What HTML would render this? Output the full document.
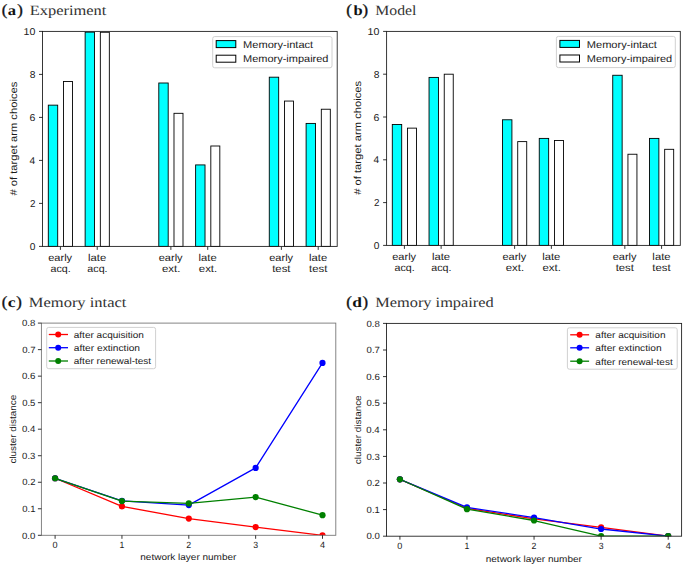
<!DOCTYPE html>
<html><head><meta charset="utf-8"><style>
html,body{margin:0;padding:0;background:#fff;}
body{width:685px;height:567px;overflow:hidden;}
svg{display:block;}
</style></head><body>
<svg width="685" height="567" viewBox="0 0 685 567" text-rendering="geometricPrecision" font-family='"Liberation Sans", sans-serif'>
<rect width="685" height="567" fill="#fff"/>
<text x="1.76" y="14.60" font-size="15.6" textLength="5.58" lengthAdjust="spacingAndGlyphs" font-family='"Liberation Serif", serif' font-weight="normal" fill="#111" stroke="#111" stroke-width="0.35">(</text>
<text x="7.77" y="14.50" font-size="14.2" textLength="8.28" lengthAdjust="spacingAndGlyphs" font-family='"Liberation Serif", serif' font-weight="bold" fill="#111">a</text>
<text x="17.16" y="14.60" font-size="15.6" textLength="5.58" lengthAdjust="spacingAndGlyphs" font-family='"Liberation Serif", serif' font-weight="normal" fill="#111" stroke="#111" stroke-width="0.35">)</text>
<text x="29.73" y="14.50" font-size="14.2" textLength="76.57" lengthAdjust="spacingAndGlyphs" font-family='"Liberation Serif", serif' font-weight="normal" fill="#333">Experiment</text>
<text x="346.26" y="14.60" font-size="15.6" textLength="5.58" lengthAdjust="spacingAndGlyphs" font-family='"Liberation Serif", serif' font-weight="normal" fill="#111" stroke="#111" stroke-width="0.35">(</text>
<text x="353.59" y="14.50" font-size="14.2" textLength="9.18" lengthAdjust="spacingAndGlyphs" font-family='"Liberation Serif", serif' font-weight="bold" fill="#111">b</text>
<text x="362.46" y="14.60" font-size="15.6" textLength="5.58" lengthAdjust="spacingAndGlyphs" font-family='"Liberation Serif", serif' font-weight="normal" fill="#111" stroke="#111" stroke-width="0.35">)</text>
<text x="375.25" y="14.50" font-size="14.2" textLength="41.17" lengthAdjust="spacingAndGlyphs" font-family='"Liberation Serif", serif' font-weight="normal" fill="#333">Model</text>
<text x="1.76" y="307.20" font-size="15.6" textLength="5.58" lengthAdjust="spacingAndGlyphs" font-family='"Liberation Serif", serif' font-weight="normal" fill="#111" stroke="#111" stroke-width="0.35">(</text>
<text x="7.80" y="306.70" font-size="14.2" textLength="7.84" lengthAdjust="spacingAndGlyphs" font-family='"Liberation Serif", serif' font-weight="bold" fill="#111">c</text>
<text x="16.16" y="307.20" font-size="15.6" textLength="5.58" lengthAdjust="spacingAndGlyphs" font-family='"Liberation Serif", serif' font-weight="normal" fill="#111" stroke="#111" stroke-width="0.35">)</text>
<text x="28.82" y="306.70" font-size="14.2" textLength="97.57" lengthAdjust="spacingAndGlyphs" font-family='"Liberation Serif", serif' font-weight="normal" fill="#333">Memory intact</text>
<text x="346.26" y="307.20" font-size="15.6" textLength="5.58" lengthAdjust="spacingAndGlyphs" font-family='"Liberation Serif", serif' font-weight="normal" fill="#111" stroke="#111" stroke-width="0.35">(</text>
<text x="352.39" y="306.70" font-size="14.2" textLength="9.70" lengthAdjust="spacingAndGlyphs" font-family='"Liberation Serif", serif' font-weight="bold" fill="#111">d</text>
<text x="362.46" y="307.20" font-size="15.6" textLength="5.58" lengthAdjust="spacingAndGlyphs" font-family='"Liberation Serif", serif' font-weight="normal" fill="#111" stroke="#111" stroke-width="0.35">)</text>
<text x="375.23" y="306.70" font-size="14.2" textLength="118.47" lengthAdjust="spacingAndGlyphs" font-family='"Liberation Serif", serif' font-weight="normal" fill="#333">Memory impaired</text>
<rect x="48.30" y="105.15" width="9.40" height="141.25" fill="#00ffff" stroke="#000" stroke-width="0.9" />
<rect x="63.50" y="81.50" width="9.00" height="164.91" fill="#ffffff" stroke="#000" stroke-width="0.9" />
<line x1="60.40" y1="246.40" x2="60.40" y2="249.90" stroke="#000" stroke-width="0.8" />
<text x="48.24" y="260.70" font-size="10.0" textLength="23.88" lengthAdjust="spacingAndGlyphs" font-family='"Liberation Sans", sans-serif' font-weight="normal" fill="#1a1a1a">early</text>
<text x="50.55" y="271.50" font-size="10.0" textLength="20.22" lengthAdjust="spacingAndGlyphs" font-family='"Liberation Sans", sans-serif' font-weight="normal" fill="#1a1a1a">acq.</text>
<rect x="85.13" y="32.15" width="9.40" height="214.25" fill="#00ffff" stroke="#000" stroke-width="0.9" />
<rect x="100.33" y="32.26" width="9.00" height="214.14" fill="#ffffff" stroke="#000" stroke-width="0.9" />
<line x1="97.23" y1="246.40" x2="97.23" y2="249.90" stroke="#000" stroke-width="0.8" />
<text x="88.03" y="260.70" font-size="10.0" textLength="18.15" lengthAdjust="spacingAndGlyphs" font-family='"Liberation Sans", sans-serif' font-weight="normal" fill="#1a1a1a">late</text>
<text x="87.38" y="271.50" font-size="10.0" textLength="20.22" lengthAdjust="spacingAndGlyphs" font-family='"Liberation Sans", sans-serif' font-weight="normal" fill="#1a1a1a">acq.</text>
<rect x="158.79" y="83.00" width="9.40" height="163.40" fill="#00ffff" stroke="#000" stroke-width="0.9" />
<rect x="173.99" y="113.31" width="9.00" height="133.09" fill="#ffffff" stroke="#000" stroke-width="0.9" />
<line x1="170.89" y1="246.40" x2="170.89" y2="249.90" stroke="#000" stroke-width="0.8" />
<text x="158.73" y="260.70" font-size="10.0" textLength="23.88" lengthAdjust="spacingAndGlyphs" font-family='"Liberation Sans", sans-serif' font-weight="normal" fill="#1a1a1a">early</text>
<text x="161.94" y="271.50" font-size="10.0" textLength="18.46" lengthAdjust="spacingAndGlyphs" font-family='"Liberation Sans", sans-serif' font-weight="normal" fill="#1a1a1a">ext.</text>
<rect x="195.62" y="164.92" width="9.40" height="81.48" fill="#00ffff" stroke="#000" stroke-width="0.9" />
<rect x="210.82" y="146.00" width="9.00" height="100.41" fill="#ffffff" stroke="#000" stroke-width="0.9" />
<line x1="207.72" y1="246.40" x2="207.72" y2="249.90" stroke="#000" stroke-width="0.8" />
<text x="198.52" y="260.70" font-size="10.0" textLength="18.15" lengthAdjust="spacingAndGlyphs" font-family='"Liberation Sans", sans-serif' font-weight="normal" fill="#1a1a1a">late</text>
<text x="198.77" y="271.50" font-size="10.0" textLength="18.46" lengthAdjust="spacingAndGlyphs" font-family='"Liberation Sans", sans-serif' font-weight="normal" fill="#1a1a1a">ext.</text>
<rect x="269.28" y="77.19" width="9.40" height="169.21" fill="#00ffff" stroke="#000" stroke-width="0.9" />
<rect x="284.48" y="101.06" width="9.00" height="145.34" fill="#ffffff" stroke="#000" stroke-width="0.9" />
<line x1="281.38" y1="246.40" x2="281.38" y2="249.90" stroke="#000" stroke-width="0.8" />
<text x="269.22" y="260.70" font-size="10.0" textLength="23.88" lengthAdjust="spacingAndGlyphs" font-family='"Liberation Sans", sans-serif' font-weight="normal" fill="#1a1a1a">early</text>
<text x="272.19" y="271.50" font-size="10.0" textLength="18.30" lengthAdjust="spacingAndGlyphs" font-family='"Liberation Sans", sans-serif' font-weight="normal" fill="#1a1a1a">test</text>
<rect x="306.11" y="123.42" width="9.40" height="122.98" fill="#00ffff" stroke="#000" stroke-width="0.9" />
<rect x="321.31" y="109.23" width="9.00" height="137.17" fill="#ffffff" stroke="#000" stroke-width="0.9" />
<line x1="318.21" y1="246.40" x2="318.21" y2="249.90" stroke="#000" stroke-width="0.8" />
<text x="309.01" y="260.70" font-size="10.0" textLength="18.15" lengthAdjust="spacingAndGlyphs" font-family='"Liberation Sans", sans-serif' font-weight="normal" fill="#1a1a1a">late</text>
<text x="309.02" y="271.50" font-size="10.0" textLength="18.30" lengthAdjust="spacingAndGlyphs" font-family='"Liberation Sans", sans-serif' font-weight="normal" fill="#1a1a1a">test</text>
<rect x="42.50" y="31.40" width="294.70" height="215.00" fill="none" stroke="#222" stroke-width="0.9"/>
<line x1="39.00" y1="246.40" x2="42.50" y2="246.40" stroke="#000" stroke-width="0.8" />
<text x="29.74" y="249.90" font-size="10.0" textLength="5.66" lengthAdjust="spacingAndGlyphs" font-family='"Liberation Sans", sans-serif' font-weight="normal" fill="#1a1a1a">0</text>
<line x1="39.00" y1="203.40" x2="42.50" y2="203.40" stroke="#000" stroke-width="0.8" />
<text x="30.04" y="206.90" font-size="10.0" textLength="5.45" lengthAdjust="spacingAndGlyphs" font-family='"Liberation Sans", sans-serif' font-weight="normal" fill="#1a1a1a">2</text>
<line x1="39.00" y1="160.40" x2="42.50" y2="160.40" stroke="#000" stroke-width="0.8" />
<text x="29.64" y="163.90" font-size="10.0" textLength="5.66" lengthAdjust="spacingAndGlyphs" font-family='"Liberation Sans", sans-serif' font-weight="normal" fill="#1a1a1a">4</text>
<line x1="39.00" y1="117.40" x2="42.50" y2="117.40" stroke="#000" stroke-width="0.8" />
<text x="29.61" y="120.90" font-size="10.0" textLength="5.86" lengthAdjust="spacingAndGlyphs" font-family='"Liberation Sans", sans-serif' font-weight="normal" fill="#1a1a1a">6</text>
<line x1="39.00" y1="74.40" x2="42.50" y2="74.40" stroke="#000" stroke-width="0.8" />
<text x="29.73" y="77.90" font-size="10.0" textLength="5.72" lengthAdjust="spacingAndGlyphs" font-family='"Liberation Sans", sans-serif' font-weight="normal" fill="#1a1a1a">8</text>
<line x1="39.00" y1="31.40" x2="42.50" y2="31.40" stroke="#000" stroke-width="0.8" />
<text x="23.61" y="34.90" font-size="10.0" textLength="11.80" lengthAdjust="spacingAndGlyphs" font-family='"Liberation Sans", sans-serif' font-weight="normal" fill="#1a1a1a">10</text>
<text transform="translate(17.40,0) rotate(-90)" x="-195.60" y="0" font-size="10.0" textLength="113.96" lengthAdjust="spacingAndGlyphs" font-family='"Liberation Sans", sans-serif' font-weight="normal" fill="#1a1a1a"># of target arm choices</text>
<rect x="392.30" y="124.49" width="9.40" height="120.91" fill="#00ffff" stroke="#000" stroke-width="0.9" />
<rect x="407.50" y="128.13" width="9.00" height="117.27" fill="#ffffff" stroke="#000" stroke-width="0.9" />
<line x1="404.40" y1="245.40" x2="404.40" y2="248.90" stroke="#000" stroke-width="0.8" />
<text x="392.24" y="259.70" font-size="10.0" textLength="23.88" lengthAdjust="spacingAndGlyphs" font-family='"Liberation Sans", sans-serif' font-weight="normal" fill="#1a1a1a">early</text>
<text x="394.55" y="270.50" font-size="10.0" textLength="20.22" lengthAdjust="spacingAndGlyphs" font-family='"Liberation Sans", sans-serif' font-weight="normal" fill="#1a1a1a">acq.</text>
<rect x="429.04" y="77.41" width="9.40" height="167.99" fill="#00ffff" stroke="#000" stroke-width="0.9" />
<rect x="444.24" y="74.20" width="9.00" height="171.20" fill="#ffffff" stroke="#000" stroke-width="0.9" />
<line x1="441.14" y1="245.40" x2="441.14" y2="248.90" stroke="#000" stroke-width="0.8" />
<text x="431.94" y="259.70" font-size="10.0" textLength="18.15" lengthAdjust="spacingAndGlyphs" font-family='"Liberation Sans", sans-serif' font-weight="normal" fill="#1a1a1a">late</text>
<text x="431.29" y="270.50" font-size="10.0" textLength="20.22" lengthAdjust="spacingAndGlyphs" font-family='"Liberation Sans", sans-serif' font-weight="normal" fill="#1a1a1a">acq.</text>
<rect x="502.52" y="119.78" width="9.40" height="125.62" fill="#00ffff" stroke="#000" stroke-width="0.9" />
<rect x="517.72" y="141.61" width="9.00" height="103.79" fill="#ffffff" stroke="#000" stroke-width="0.9" />
<line x1="514.62" y1="245.40" x2="514.62" y2="248.90" stroke="#000" stroke-width="0.8" />
<text x="502.46" y="259.70" font-size="10.0" textLength="23.88" lengthAdjust="spacingAndGlyphs" font-family='"Liberation Sans", sans-serif' font-weight="normal" fill="#1a1a1a">early</text>
<text x="505.67" y="270.50" font-size="10.0" textLength="18.46" lengthAdjust="spacingAndGlyphs" font-family='"Liberation Sans", sans-serif' font-weight="normal" fill="#1a1a1a">ext.</text>
<rect x="539.26" y="138.40" width="9.40" height="107.00" fill="#00ffff" stroke="#000" stroke-width="0.9" />
<rect x="554.46" y="140.54" width="9.00" height="104.86" fill="#ffffff" stroke="#000" stroke-width="0.9" />
<line x1="551.36" y1="245.40" x2="551.36" y2="248.90" stroke="#000" stroke-width="0.8" />
<text x="542.16" y="259.70" font-size="10.0" textLength="18.15" lengthAdjust="spacingAndGlyphs" font-family='"Liberation Sans", sans-serif' font-weight="normal" fill="#1a1a1a">late</text>
<text x="542.41" y="270.50" font-size="10.0" textLength="18.46" lengthAdjust="spacingAndGlyphs" font-family='"Liberation Sans", sans-serif' font-weight="normal" fill="#1a1a1a">ext.</text>
<rect x="612.74" y="75.27" width="9.40" height="170.13" fill="#00ffff" stroke="#000" stroke-width="0.9" />
<rect x="627.94" y="154.24" width="9.00" height="91.16" fill="#ffffff" stroke="#000" stroke-width="0.9" />
<line x1="624.84" y1="245.40" x2="624.84" y2="248.90" stroke="#000" stroke-width="0.8" />
<text x="612.68" y="259.70" font-size="10.0" textLength="23.88" lengthAdjust="spacingAndGlyphs" font-family='"Liberation Sans", sans-serif' font-weight="normal" fill="#1a1a1a">early</text>
<text x="615.65" y="270.50" font-size="10.0" textLength="18.30" lengthAdjust="spacingAndGlyphs" font-family='"Liberation Sans", sans-serif' font-weight="normal" fill="#1a1a1a">test</text>
<rect x="649.48" y="138.40" width="9.40" height="107.00" fill="#00ffff" stroke="#000" stroke-width="0.9" />
<rect x="664.68" y="149.31" width="9.00" height="96.09" fill="#ffffff" stroke="#000" stroke-width="0.9" />
<line x1="661.58" y1="245.40" x2="661.58" y2="248.90" stroke="#000" stroke-width="0.8" />
<text x="652.38" y="259.70" font-size="10.0" textLength="18.15" lengthAdjust="spacingAndGlyphs" font-family='"Liberation Sans", sans-serif' font-weight="normal" fill="#1a1a1a">late</text>
<text x="652.39" y="270.50" font-size="10.0" textLength="18.30" lengthAdjust="spacingAndGlyphs" font-family='"Liberation Sans", sans-serif' font-weight="normal" fill="#1a1a1a">test</text>
<rect x="386.60" y="31.40" width="293.70" height="214.00" fill="none" stroke="#222" stroke-width="0.9"/>
<line x1="383.10" y1="245.40" x2="386.60" y2="245.40" stroke="#000" stroke-width="0.8" />
<text x="373.74" y="248.90" font-size="10.0" textLength="5.66" lengthAdjust="spacingAndGlyphs" font-family='"Liberation Sans", sans-serif' font-weight="normal" fill="#1a1a1a">0</text>
<line x1="383.10" y1="202.60" x2="386.60" y2="202.60" stroke="#000" stroke-width="0.8" />
<text x="374.04" y="206.10" font-size="10.0" textLength="5.45" lengthAdjust="spacingAndGlyphs" font-family='"Liberation Sans", sans-serif' font-weight="normal" fill="#1a1a1a">2</text>
<line x1="383.10" y1="159.80" x2="386.60" y2="159.80" stroke="#000" stroke-width="0.8" />
<text x="373.64" y="163.30" font-size="10.0" textLength="5.66" lengthAdjust="spacingAndGlyphs" font-family='"Liberation Sans", sans-serif' font-weight="normal" fill="#1a1a1a">4</text>
<line x1="383.10" y1="117.00" x2="386.60" y2="117.00" stroke="#000" stroke-width="0.8" />
<text x="373.61" y="120.50" font-size="10.0" textLength="5.86" lengthAdjust="spacingAndGlyphs" font-family='"Liberation Sans", sans-serif' font-weight="normal" fill="#1a1a1a">6</text>
<line x1="383.10" y1="74.20" x2="386.60" y2="74.20" stroke="#000" stroke-width="0.8" />
<text x="373.73" y="77.70" font-size="10.0" textLength="5.72" lengthAdjust="spacingAndGlyphs" font-family='"Liberation Sans", sans-serif' font-weight="normal" fill="#1a1a1a">8</text>
<line x1="383.10" y1="31.40" x2="386.60" y2="31.40" stroke="#000" stroke-width="0.8" />
<text x="367.61" y="34.90" font-size="10.0" textLength="11.80" lengthAdjust="spacingAndGlyphs" font-family='"Liberation Sans", sans-serif' font-weight="normal" fill="#1a1a1a">10</text>
<text transform="translate(361.30,0) rotate(-90)" x="-194.80" y="0" font-size="10.0" textLength="113.96" lengthAdjust="spacingAndGlyphs" font-family='"Liberation Sans", sans-serif' font-weight="normal" fill="#1a1a1a"># of target arm choices</text>
<rect x="212.70" y="36.60" width="119.30" height="31.20" rx="2" fill="#fff" fill-opacity="0.8" stroke="#d0d0d0" stroke-width="1"/>
<rect x="216.20" y="40.60" width="19.60" height="7.00" fill="#00ffff" stroke="#000" stroke-width="1" />
<rect x="216.20" y="55.20" width="19.60" height="7.00" fill="#ffffff" stroke="#000" stroke-width="1" />
<text x="243.09" y="47.70" font-size="10.0" textLength="70.12" lengthAdjust="spacingAndGlyphs" font-family='"Liberation Sans", sans-serif' font-weight="normal" fill="#1a1a1a">Memory-intact</text>
<text x="243.10" y="62.30" font-size="10.0" textLength="85.34" lengthAdjust="spacingAndGlyphs" font-family='"Liberation Sans", sans-serif' font-weight="normal" fill="#1a1a1a">Memory-impaired</text>
<rect x="556.40" y="36.40" width="118.90" height="31.20" rx="2" fill="#fff" fill-opacity="0.8" stroke="#d0d0d0" stroke-width="1"/>
<rect x="559.90" y="40.40" width="19.60" height="7.00" fill="#00ffff" stroke="#000" stroke-width="1" />
<rect x="559.90" y="55.00" width="19.60" height="7.00" fill="#ffffff" stroke="#000" stroke-width="1" />
<text x="586.79" y="47.50" font-size="10.0" textLength="70.12" lengthAdjust="spacingAndGlyphs" font-family='"Liberation Sans", sans-serif' font-weight="normal" fill="#1a1a1a">Memory-intact</text>
<text x="586.80" y="62.10" font-size="10.0" textLength="85.34" lengthAdjust="spacingAndGlyphs" font-family='"Liberation Sans", sans-serif' font-weight="normal" fill="#1a1a1a">Memory-impaired</text>
<defs><clipPath id="clip41"><rect x="41.4" y="323.1" width="294.40000000000003" height="212.19999999999993"/></clipPath></defs>
<g clip-path="url(#clip41)">
<polyline points="55.10,478.27 121.95,506.39 188.80,518.59 255.65,527.08 322.50,535.30" fill="none" stroke="#ff0000" stroke-width="1.3" stroke-linejoin="round"/>
<circle cx="55.10" cy="478.27" r="3.1" fill="#ff0000"/>
<circle cx="121.95" cy="506.39" r="3.1" fill="#ff0000"/>
<circle cx="188.80" cy="518.59" r="3.1" fill="#ff0000"/>
<circle cx="255.65" cy="527.08" r="3.1" fill="#ff0000"/>
<circle cx="322.50" cy="535.30" r="3.1" fill="#ff0000"/>
<polyline points="55.10,478.27 121.95,500.82 188.80,505.06 255.65,467.93 322.50,362.89" fill="none" stroke="#0000ff" stroke-width="1.3" stroke-linejoin="round"/>
<circle cx="55.10" cy="478.27" r="3.1" fill="#0000ff"/>
<circle cx="121.95" cy="500.82" r="3.1" fill="#0000ff"/>
<circle cx="188.80" cy="505.06" r="3.1" fill="#0000ff"/>
<circle cx="255.65" cy="467.93" r="3.1" fill="#0000ff"/>
<circle cx="322.50" cy="362.89" r="3.1" fill="#0000ff"/>
<polyline points="55.10,478.27 121.95,501.08 188.80,503.47 255.65,497.10 322.50,515.14" fill="none" stroke="#008000" stroke-width="1.3" stroke-linejoin="round"/>
<circle cx="55.10" cy="478.27" r="3.1" fill="#008000"/>
<circle cx="121.95" cy="501.08" r="3.1" fill="#008000"/>
<circle cx="188.80" cy="503.47" r="3.1" fill="#008000"/>
<circle cx="255.65" cy="497.10" r="3.1" fill="#008000"/>
<circle cx="322.50" cy="515.14" r="3.1" fill="#008000"/>
</g>
<rect x="41.40" y="323.10" width="294.40" height="212.20" fill="none" stroke="#777" stroke-width="0.9"/>
<line x1="55.10" y1="535.30" x2="55.10" y2="538.80" stroke="#000" stroke-width="0.8" />
<text x="52.56" y="547.80" font-size="9.0" textLength="5.07" lengthAdjust="spacingAndGlyphs" font-family='"Liberation Sans", sans-serif' font-weight="normal" fill="#1a1a1a">0</text>
<line x1="121.95" y1="535.30" x2="121.95" y2="538.80" stroke="#000" stroke-width="0.8" />
<text x="119.41" y="547.80" font-size="9.0" textLength="4.84" lengthAdjust="spacingAndGlyphs" font-family='"Liberation Sans", sans-serif' font-weight="normal" fill="#1a1a1a">1</text>
<line x1="188.80" y1="535.30" x2="188.80" y2="538.80" stroke="#000" stroke-width="0.8" />
<text x="186.36" y="547.80" font-size="9.0" textLength="4.89" lengthAdjust="spacingAndGlyphs" font-family='"Liberation Sans", sans-serif' font-weight="normal" fill="#1a1a1a">2</text>
<line x1="255.65" y1="535.30" x2="255.65" y2="538.80" stroke="#000" stroke-width="0.8" />
<text x="253.24" y="547.80" font-size="9.0" textLength="4.87" lengthAdjust="spacingAndGlyphs" font-family='"Liberation Sans", sans-serif' font-weight="normal" fill="#1a1a1a">3</text>
<line x1="322.50" y1="535.30" x2="322.50" y2="538.80" stroke="#000" stroke-width="0.8" />
<text x="319.99" y="547.80" font-size="9.0" textLength="5.07" lengthAdjust="spacingAndGlyphs" font-family='"Liberation Sans", sans-serif' font-weight="normal" fill="#1a1a1a">4</text>
<line x1="37.90" y1="535.30" x2="41.40" y2="535.30" stroke="#000" stroke-width="0.8" />
<text x="22.01" y="538.50" font-size="9.0" textLength="13.36" lengthAdjust="spacingAndGlyphs" font-family='"Liberation Sans", sans-serif' font-weight="normal" fill="#1a1a1a">0.0</text>
<line x1="37.90" y1="508.77" x2="41.40" y2="508.77" stroke="#000" stroke-width="0.8" />
<text x="22.24" y="511.97" font-size="9.0" textLength="13.22" lengthAdjust="spacingAndGlyphs" font-family='"Liberation Sans", sans-serif' font-weight="normal" fill="#1a1a1a">0.1</text>
<line x1="37.90" y1="482.25" x2="41.40" y2="482.25" stroke="#000" stroke-width="0.8" />
<text x="22.31" y="485.45" font-size="9.0" textLength="13.17" lengthAdjust="spacingAndGlyphs" font-family='"Liberation Sans", sans-serif' font-weight="normal" fill="#1a1a1a">0.2</text>
<line x1="37.90" y1="455.73" x2="41.40" y2="455.73" stroke="#000" stroke-width="0.8" />
<text x="22.13" y="458.93" font-size="9.0" textLength="13.29" lengthAdjust="spacingAndGlyphs" font-family='"Liberation Sans", sans-serif' font-weight="normal" fill="#1a1a1a">0.3</text>
<line x1="37.90" y1="429.20" x2="41.40" y2="429.20" stroke="#000" stroke-width="0.8" />
<text x="21.92" y="432.40" font-size="9.0" textLength="13.36" lengthAdjust="spacingAndGlyphs" font-family='"Liberation Sans", sans-serif' font-weight="normal" fill="#1a1a1a">0.4</text>
<line x1="37.90" y1="402.68" x2="41.40" y2="402.68" stroke="#000" stroke-width="0.8" />
<text x="22.20" y="405.88" font-size="9.0" textLength="13.20" lengthAdjust="spacingAndGlyphs" font-family='"Liberation Sans", sans-serif' font-weight="normal" fill="#1a1a1a">0.5</text>
<line x1="37.90" y1="376.15" x2="41.40" y2="376.15" stroke="#000" stroke-width="0.8" />
<text x="21.98" y="379.35" font-size="9.0" textLength="13.44" lengthAdjust="spacingAndGlyphs" font-family='"Liberation Sans", sans-serif' font-weight="normal" fill="#1a1a1a">0.6</text>
<line x1="37.90" y1="349.63" x2="41.40" y2="349.63" stroke="#000" stroke-width="0.8" />
<text x="22.18" y="352.83" font-size="9.0" textLength="13.30" lengthAdjust="spacingAndGlyphs" font-family='"Liberation Sans", sans-serif' font-weight="normal" fill="#1a1a1a">0.7</text>
<line x1="37.90" y1="323.10" x2="41.40" y2="323.10" stroke="#000" stroke-width="0.8" />
<text x="22.03" y="326.30" font-size="9.0" textLength="13.39" lengthAdjust="spacingAndGlyphs" font-family='"Liberation Sans", sans-serif' font-weight="normal" fill="#1a1a1a">0.8</text>
<text transform="translate(15.90,0) rotate(-90)" x="-463.56" y="0" font-size="9.0" textLength="68.74" lengthAdjust="spacingAndGlyphs" font-family='"Liberation Sans", sans-serif' font-weight="normal" fill="#1a1a1a">cluster distance</text>
<text x="140.29" y="560.00" font-size="9.0" textLength="96.13" lengthAdjust="spacingAndGlyphs" font-family='"Liberation Sans", sans-serif' font-weight="normal" fill="#1a1a1a">network layer number</text>
<defs><clipPath id="clip386"><rect x="386.5" y="323.4" width="295.1" height="212.80000000000007"/></clipPath></defs>
<g clip-path="url(#clip386)">
<polyline points="399.91,479.28 466.98,508.27 534.05,518.91 601.12,527.42 668.19,536.20" fill="none" stroke="#ff0000" stroke-width="1.3" stroke-linejoin="round"/>
<circle cx="399.91" cy="479.28" r="3.1" fill="#ff0000"/>
<circle cx="466.98" cy="508.27" r="3.1" fill="#ff0000"/>
<circle cx="534.05" cy="518.91" r="3.1" fill="#ff0000"/>
<circle cx="601.12" cy="527.42" r="3.1" fill="#ff0000"/>
<circle cx="668.19" cy="536.20" r="3.1" fill="#ff0000"/>
<polyline points="399.91,479.28 466.98,507.47 534.05,517.58 601.12,529.02 668.19,536.20" fill="none" stroke="#0000ff" stroke-width="1.3" stroke-linejoin="round"/>
<circle cx="399.91" cy="479.28" r="3.1" fill="#0000ff"/>
<circle cx="466.98" cy="507.47" r="3.1" fill="#0000ff"/>
<circle cx="534.05" cy="517.58" r="3.1" fill="#0000ff"/>
<circle cx="601.12" cy="529.02" r="3.1" fill="#0000ff"/>
<circle cx="668.19" cy="536.20" r="3.1" fill="#0000ff"/>
<polyline points="399.91,479.28 466.98,509.17 534.05,520.51 601.12,536.20 668.19,536.20" fill="none" stroke="#008000" stroke-width="1.3" stroke-linejoin="round"/>
<circle cx="399.91" cy="479.28" r="3.1" fill="#008000"/>
<circle cx="466.98" cy="509.17" r="3.1" fill="#008000"/>
<circle cx="534.05" cy="520.51" r="3.1" fill="#008000"/>
<circle cx="601.12" cy="536.20" r="3.1" fill="#008000"/>
<circle cx="668.19" cy="536.20" r="3.1" fill="#008000"/>
</g>
<rect x="386.50" y="323.40" width="295.10" height="212.80" fill="none" stroke="#222" stroke-width="0.9"/>
<line x1="399.91" y1="536.20" x2="399.91" y2="539.70" stroke="#000" stroke-width="0.8" />
<text x="397.38" y="548.70" font-size="9.0" textLength="5.07" lengthAdjust="spacingAndGlyphs" font-family='"Liberation Sans", sans-serif' font-weight="normal" fill="#1a1a1a">0</text>
<line x1="466.98" y1="536.20" x2="466.98" y2="539.70" stroke="#000" stroke-width="0.8" />
<text x="464.44" y="548.70" font-size="9.0" textLength="4.84" lengthAdjust="spacingAndGlyphs" font-family='"Liberation Sans", sans-serif' font-weight="normal" fill="#1a1a1a">1</text>
<line x1="534.05" y1="536.20" x2="534.05" y2="539.70" stroke="#000" stroke-width="0.8" />
<text x="531.61" y="548.70" font-size="9.0" textLength="4.89" lengthAdjust="spacingAndGlyphs" font-family='"Liberation Sans", sans-serif' font-weight="normal" fill="#1a1a1a">2</text>
<line x1="601.12" y1="536.20" x2="601.12" y2="539.70" stroke="#000" stroke-width="0.8" />
<text x="598.71" y="548.70" font-size="9.0" textLength="4.87" lengthAdjust="spacingAndGlyphs" font-family='"Liberation Sans", sans-serif' font-weight="normal" fill="#1a1a1a">3</text>
<line x1="668.19" y1="536.20" x2="668.19" y2="539.70" stroke="#000" stroke-width="0.8" />
<text x="665.68" y="548.70" font-size="9.0" textLength="5.07" lengthAdjust="spacingAndGlyphs" font-family='"Liberation Sans", sans-serif' font-weight="normal" fill="#1a1a1a">4</text>
<line x1="383.00" y1="536.20" x2="386.50" y2="536.20" stroke="#000" stroke-width="0.8" />
<text x="366.41" y="539.40" font-size="9.0" textLength="13.36" lengthAdjust="spacingAndGlyphs" font-family='"Liberation Sans", sans-serif' font-weight="normal" fill="#1a1a1a">0.0</text>
<line x1="383.00" y1="509.60" x2="386.50" y2="509.60" stroke="#000" stroke-width="0.8" />
<text x="366.64" y="512.80" font-size="9.0" textLength="13.22" lengthAdjust="spacingAndGlyphs" font-family='"Liberation Sans", sans-serif' font-weight="normal" fill="#1a1a1a">0.1</text>
<line x1="383.00" y1="483.00" x2="386.50" y2="483.00" stroke="#000" stroke-width="0.8" />
<text x="366.71" y="486.20" font-size="9.0" textLength="13.17" lengthAdjust="spacingAndGlyphs" font-family='"Liberation Sans", sans-serif' font-weight="normal" fill="#1a1a1a">0.2</text>
<line x1="383.00" y1="456.40" x2="386.50" y2="456.40" stroke="#000" stroke-width="0.8" />
<text x="366.53" y="459.60" font-size="9.0" textLength="13.29" lengthAdjust="spacingAndGlyphs" font-family='"Liberation Sans", sans-serif' font-weight="normal" fill="#1a1a1a">0.3</text>
<line x1="383.00" y1="429.80" x2="386.50" y2="429.80" stroke="#000" stroke-width="0.8" />
<text x="366.32" y="433.00" font-size="9.0" textLength="13.36" lengthAdjust="spacingAndGlyphs" font-family='"Liberation Sans", sans-serif' font-weight="normal" fill="#1a1a1a">0.4</text>
<line x1="383.00" y1="403.20" x2="386.50" y2="403.20" stroke="#000" stroke-width="0.8" />
<text x="366.60" y="406.40" font-size="9.0" textLength="13.20" lengthAdjust="spacingAndGlyphs" font-family='"Liberation Sans", sans-serif' font-weight="normal" fill="#1a1a1a">0.5</text>
<line x1="383.00" y1="376.60" x2="386.50" y2="376.60" stroke="#000" stroke-width="0.8" />
<text x="366.38" y="379.80" font-size="9.0" textLength="13.44" lengthAdjust="spacingAndGlyphs" font-family='"Liberation Sans", sans-serif' font-weight="normal" fill="#1a1a1a">0.6</text>
<line x1="383.00" y1="350.00" x2="386.50" y2="350.00" stroke="#000" stroke-width="0.8" />
<text x="366.58" y="353.20" font-size="9.0" textLength="13.30" lengthAdjust="spacingAndGlyphs" font-family='"Liberation Sans", sans-serif' font-weight="normal" fill="#1a1a1a">0.7</text>
<line x1="383.00" y1="323.40" x2="386.50" y2="323.40" stroke="#000" stroke-width="0.8" />
<text x="366.43" y="326.60" font-size="9.0" textLength="13.39" lengthAdjust="spacingAndGlyphs" font-family='"Liberation Sans", sans-serif' font-weight="normal" fill="#1a1a1a">0.8</text>
<text transform="translate(361.00,0) rotate(-90)" x="-464.16" y="0" font-size="9.0" textLength="68.74" lengthAdjust="spacingAndGlyphs" font-family='"Liberation Sans", sans-serif' font-weight="normal" fill="#1a1a1a">cluster distance</text>
<text x="485.74" y="561.60" font-size="9.0" textLength="96.13" lengthAdjust="spacingAndGlyphs" font-family='"Liberation Sans", sans-serif' font-weight="normal" fill="#1a1a1a">network layer number</text>
<rect x="46.70" y="327.40" width="108.90" height="41.30" rx="2" fill="#fff" fill-opacity="0.8" stroke="#d0d0d0" stroke-width="1"/>
<line x1="48.80" y1="334.50" x2="68.00" y2="334.50" stroke="#ff0000" stroke-width="1.3" />
<circle cx="58.20" cy="334.50" r="3.0" fill="#ff0000"/>
<text x="73.77" y="337.80" font-size="9.0" textLength="70.10" lengthAdjust="spacingAndGlyphs" font-family='"Liberation Sans", sans-serif' font-weight="normal" fill="#1a1a1a">after acquisition</text>
<line x1="48.80" y1="347.70" x2="68.00" y2="347.70" stroke="#0000ff" stroke-width="1.3" />
<circle cx="58.20" cy="347.70" r="3.0" fill="#0000ff"/>
<text x="73.77" y="351.00" font-size="9.0" textLength="66.25" lengthAdjust="spacingAndGlyphs" font-family='"Liberation Sans", sans-serif' font-weight="normal" fill="#1a1a1a">after extinction</text>
<line x1="48.80" y1="361.00" x2="68.00" y2="361.00" stroke="#008000" stroke-width="1.3" />
<circle cx="58.20" cy="361.00" r="3.0" fill="#008000"/>
<text x="73.77" y="364.30" font-size="9.0" textLength="77.33" lengthAdjust="spacingAndGlyphs" font-family='"Liberation Sans", sans-serif' font-weight="normal" fill="#1a1a1a">after renewal-test</text>
<rect x="567.40" y="327.80" width="109.80" height="41.40" rx="2" fill="#fff" fill-opacity="0.8" stroke="#d0d0d0" stroke-width="1"/>
<line x1="570.20" y1="334.80" x2="589.10" y2="334.80" stroke="#ff0000" stroke-width="1.3" />
<circle cx="579.60" cy="334.80" r="3.0" fill="#ff0000"/>
<text x="595.37" y="338.10" font-size="9.0" textLength="70.10" lengthAdjust="spacingAndGlyphs" font-family='"Liberation Sans", sans-serif' font-weight="normal" fill="#1a1a1a">after acquisition</text>
<line x1="570.20" y1="347.80" x2="589.10" y2="347.80" stroke="#0000ff" stroke-width="1.3" />
<circle cx="579.60" cy="347.80" r="3.0" fill="#0000ff"/>
<text x="595.37" y="351.10" font-size="9.0" textLength="66.25" lengthAdjust="spacingAndGlyphs" font-family='"Liberation Sans", sans-serif' font-weight="normal" fill="#1a1a1a">after extinction</text>
<line x1="570.20" y1="361.20" x2="589.10" y2="361.20" stroke="#008000" stroke-width="1.3" />
<circle cx="579.60" cy="361.20" r="3.0" fill="#008000"/>
<text x="595.37" y="364.50" font-size="9.0" textLength="77.33" lengthAdjust="spacingAndGlyphs" font-family='"Liberation Sans", sans-serif' font-weight="normal" fill="#1a1a1a">after renewal-test</text>
</svg></body></html>
